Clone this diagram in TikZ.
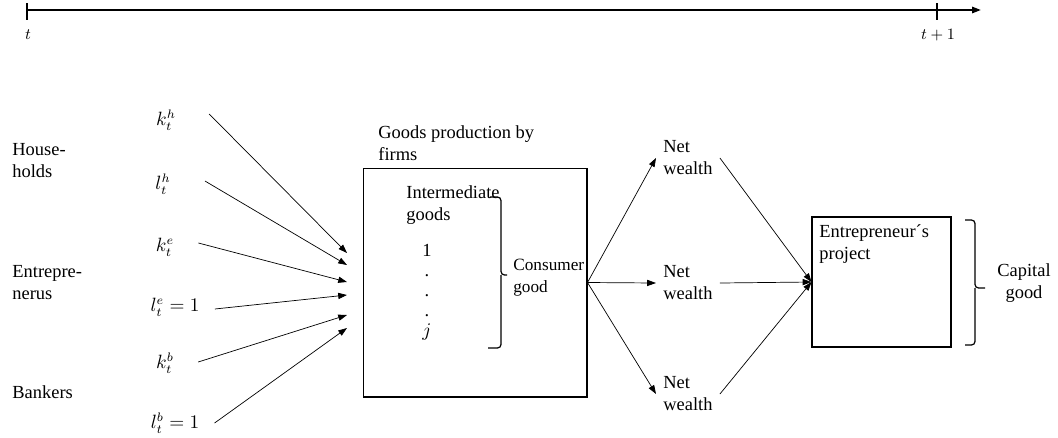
\documentclass[tikz,border=0pt]{standalone}
\usepackage{fontspec}
\setmainfont{Liberation Serif}
\usetikzlibrary{arrows.meta}

\begin{document}
\begin{tikzpicture}[x=0.02cm, y=-0.02cm, >={Triangle[length=5pt, width=3.5pt]},
    every node/.style={font=\fontsize{10.5}{12.5}\selectfont, align=left},
    txt/.style={anchor=west, inner sep=4pt},
    var/.style={inner sep=0pt},
    box/.style={draw, line width=0.6pt, inner sep=0pt},
    bracket/.style={draw, line width=0.7pt, rounded corners=2pt}]
  \useasboundingbox (0,0) rectangle (1058,437);

  % time line
  \coordinate (t0) at (27,10);
  \coordinate (t1) at (937,10);
  \coordinate (tend) at (981,10);
  \draw[->, line width=1.1pt] (t0) -- (tend);
  \draw[line width=0.6pt] (27,3) -- (27,20) (937,3) -- (937,20);
  \node[var, font=\fontsize{9}{10}\selectfont] (lt0) at (28,35) {$t$};
  \node[var, font=\fontsize{9}{10}\selectfont] (lt1) at (938,35) {$t+1$};

  % agents
  \node[txt] (hh) at (5,161) {House-\\holds};
  \node[txt] (ent) at (5,283) {Entrepre-\\nerus};
  \node[txt] (bank) at (5,392) {Bankers};

  % inputs
  \node[var] (kh) at (166,120) {$k_t^h$};
  \node[var] (lh) at (163,184) {$l_t^h$};
  \node[var] (ke) at (165,247) {$k_t^e$};
  \node[var] (le) at (175,307) {$l_t^e=1$};
  \node[var] (kb) at (165,363) {$k_t^b$};
  \node[var] (lb) at (175,423) {$l_t^b=1$};
  \coordinate (in1) at (347,253);
  \coordinate (in2) at (347,265);
  \coordinate (in3) at (347,282);
  \coordinate (in4) at (347,295);
  \coordinate (in5) at (347,315);
  \coordinate (in6) at (347,328);

  % firms
  \node[box, minimum width=4.48cm, minimum height=4.58cm] (firms) at (475,282.5) {};
  \node[txt] (firmstitle) at (371,143) {Goods production by\\firms};
  \node[txt] (inter) at (399,205) {Intermediate\\goods};
  \node[var, align=center, font=\fontsize{10.5}{11.4}\selectfont] (idx) at (427,292) {1\\.\\.\\.\\$j$};
  \path[bracket] (490,197) -| (501,275) -- (507,275) (501,275) |- (488,348);
  \node[txt, font=\fontsize{9.8}{12.5}\selectfont] (cons) at (506,278) {Consumer\\good};

  % net wealth
  \node[txt] (nw1) at (656,158) {Net\\wealth};
  \node[txt] (nw2) at (656,283) {Net\\wealth};
  \node[txt] (nw3) at (656,394) {Net\\wealth};

  % project
  \node[box, minimum width=2.78cm, minimum height=2.6cm] (proj) at (881.5,282) {};
  \node[txt, anchor=north west] (projtext) at (812,217) {Entrepreneur´s\\project};
  \path[bracket] (965,220) -| (975,288) -- (985,288) (975,288) |- (965,345);
  \node[align=center] (cap) at (1024,283) {Capital\\good};

  \draw[->] ([shift={(33,-6)}]kh.east) -- (in1);
  \draw[->] ([shift={(34,-3)}]lh.east) -- (in2);
  \draw[->] ([shift={(24,-4)}]ke.east) -- (in3);
  \draw[->] ([shift={(15,2)}]le.east) -- (in4);
  \draw[->] ([shift={(24,-1)}]kb.east) -- (in5);
  \draw[->] ([shift={(15,0)}]lb.east) -- (in6);
  \path[->]
    (firms.east) edge (nw1.west)
                 edge (nw2.west)
                 edge (nw3.west)
    (nw1.east) edge (proj.west)
    (nw2.east) edge (proj.west)
    (nw3.east) edge (proj.west);
\end{tikzpicture}
\end{document}
